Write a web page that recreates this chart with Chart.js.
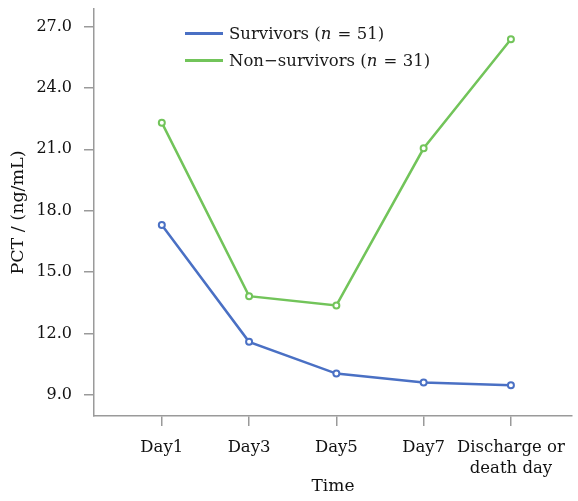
<!DOCTYPE html>
<html>
<head>
<meta charset="utf-8">
<script src="https://cdn.jsdelivr.net/npm/chart.js@4"></script>
<style>
  html, body { margin: 0; padding: 0; background: #fff; }
  #wrap { position: relative; width: 578px; height: 501px; }
  #legend { position: absolute; left: 185px; top: 20px; font-family: "DejaVu Serif", serif; font-size: 16.5px; color: #1a1a1a; }
  .leg-row { display: flex; align-items: center; height: 27px; white-space: pre; }
  .leg-line { width: 38px; height: 2.5px; margin-right: 6px; }
  .leg-row i { margin-right: 1px; }
</style>
</head>
<body>
<div id="wrap">
  <canvas id="chart" width="578" height="501"></canvas>
  <div id="legend">
    <div class="leg-row"><span class="leg-line" style="background:#4a70c4"></span>Survivors (<i>n</i> = 51)</div>
    <div class="leg-row"><span class="leg-line" style="background:#72c45a"></span>Non−survivors (<i>n</i> = 31)</div>
  </div>
</div>
<script>
// categories + series
const CATEGORIES = ["Day1", "Day3", "Day5", "Day7", ["Discharge or", "death day"]];
const SURVIVORS = [17.3, 11.6, 10.05, 9.62, 9.48];
const NON_SURVIVORS = [22.3, 13.83, 13.38, 21.05, 26.37];
const Y_TICKS = [9, 12, 15, 18, 21, 24, 27];

const COLOR_BLUE = "#4a70c4";
const COLOR_GREEN = "#72c45a";
const AXIS_GRAY = "#9a9a9a";
const TEXT = "#111";
const FONT = "'DejaVu Serif', serif";

function toPoints(values) {
  return values.map((v, i) => ({ x: i, y: v }));
}

function lineDataset(label, values, color) {
  return {
    label,
    data: toPoints(values),
    borderColor: color,
    backgroundColor: color,
    borderWidth: 2.5,
    pointRadius: 3,
    pointBorderWidth: 2,
    pointBackgroundColor: "#fff",
    pointBorderColor: color,
    tension: 0,
  };
}

new Chart(document.getElementById("chart"), {
  type: "line",
  data: {
    datasets: [
      lineDataset("Survivors (n = 51)", SURVIVORS, COLOR_BLUE),
      lineDataset("Non-survivors (n = 31)", NON_SURVIVORS, COLOR_GREEN),
    ],
  },
  options: {
    responsive: false,
    animation: false,
    layout: { padding: { top: 9, right: 5, left: 0, bottom: 0 } },
    plugins: { legend: { display: false }, tooltip: { enabled: false } },
    scales: {
      x: {
        type: "linear",
        min: -0.777,
        max: 4.7,
        afterFit: (scale) => {
          scale.height = 85;
          scale.paddingLeft = 0;
          scale.paddingRight = 0;
        },
        afterBuildTicks: (scale) => {
          scale.ticks = CATEGORIES.map((c, i) => ({ value: i }));
        },
        border: { color: AXIS_GRAY, width: 1.5 },
        grid: { drawOnChartArea: false, drawTicks: true, tickLength: 10, color: AXIS_GRAY, lineWidth: 1.5 },
        ticks: {
          padding: 11,
          color: TEXT,
          font: { family: FONT, size: 16.5, lineHeight: 1.3 },
          maxRotation: 0,
          autoSkip: false,
          callback: (v) => CATEGORIES[v],
        },
        title: { display: true, text: "Time", color: TEXT, font: { family: FONT, size: 17 }, padding: { top: 0, bottom: 4 } },
      },
      y: {
        min: 7.98,
        max: 27.85,
        afterFit: (scale) => {
          scale.width = 94;
          scale.paddingTop = 0;
          scale.paddingBottom = 0;
        },
        afterBuildTicks: (scale) => {
          scale.ticks = Y_TICKS.map((v) => ({ value: v }));
        },
        border: { color: AXIS_GRAY, width: 1.5 },
        grid: { drawOnChartArea: false, drawTicks: true, tickLength: 10, color: AXIS_GRAY, lineWidth: 1.5 },
        ticks: {
          padding: 12,
          color: TEXT,
          font: { family: FONT, size: 16 },
          callback: (v) => v.toFixed(1),
        },
        title: { display: true, text: "PCT / (ng/mL)", color: TEXT, font: { family: FONT, size: 17.5 }, padding: { top: 8, bottom: 0 } },
      },
    },
  },
});
</script>
</body>
</html>
